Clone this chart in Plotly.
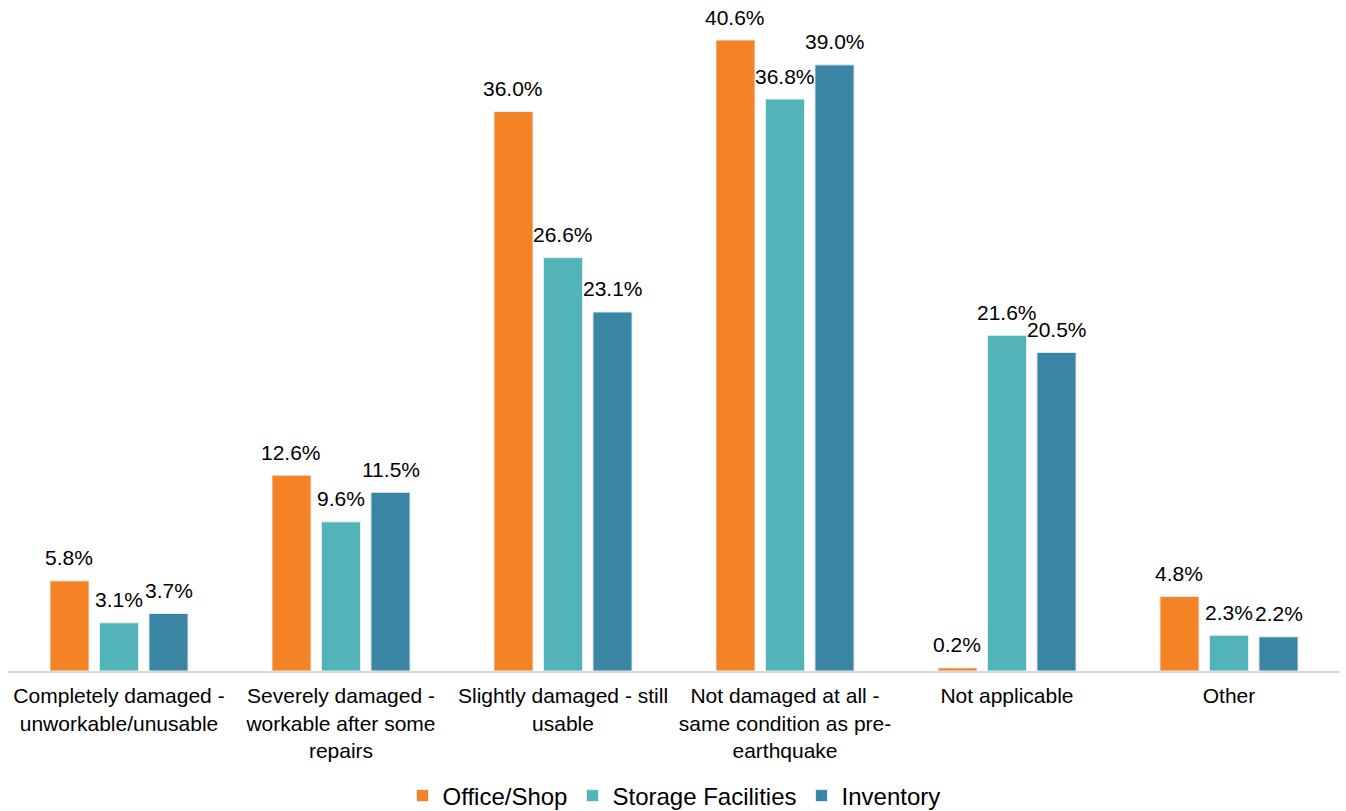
import plotly.graph_objects as go

categories = [
    "Completely damaged -<br>unworkable/unusable",
    "Severely damaged -<br>workable after some<br>repairs",
    "Slightly damaged - still<br>usable",
    "Not damaged at all -<br>same condition as pre-<br>earthquake",
    "Not applicable",
    "Other",
]
office_shop = [5.8, 12.6, 36.0, 40.6, 0.2, 4.8]
storage_facilities = [3.1, 9.6, 26.6, 36.8, 21.6, 2.3]
inventory = [3.7, 11.5, 23.1, 39.0, 20.5, 2.2]

series = [
    ("Office/Shop", office_shop, "#F48326"),
    ("Storage Facilities", storage_facilities, "#52B3B9"),
    ("Inventory", inventory, "#3A84A4"),
]

FONT = "Liberation Sans, Arial, sans-serif"
WIDTH, HEIGHT = 1346, 811
MARGIN = dict(l=8, r=6, t=10, b=140)
BARGAP = 0.331

fig = go.Figure()
for name, vals, color in series:
    fig.add_trace(go.Bar(
        name=name,
        x=categories,
        y=vals,
        marker=dict(color=color, line=dict(color="#E8F0F2", width=1)),
        cliponaxis=False,
    ))

# value labels above each bar, shifted to the centre of its slot in the group
plot_w = WIDTH - MARGIN["l"] - MARGIN["r"]
slot_px = plot_w / len(categories) * (1 - BARGAP) / len(series)
for j, (name, vals, color) in enumerate(series):
    offset = (j - (len(series) - 1) / 2) * slot_px
    for cat, v in zip(categories, vals):
        fig.add_annotation(
            x=cat, y=v, text=f"{v:.1f}%",
            showarrow=False, xanchor="center", yanchor="middle",
            xshift=offset, yshift=23,
            font=dict(family=FONT, size=21, color="#000000"),
        )

fig.update_layout(
    width=WIDTH,
    height=HEIGHT,
    margin=MARGIN,
    paper_bgcolor="white",
    plot_bgcolor="white",
    barmode="group",
    bargap=BARGAP,
    bargroupgap=0.21,
    font=dict(family=FONT, color="#000000"),
    showlegend=True,
    legend=dict(
        orientation="h",
        x=0.5, xanchor="center",
        yref="container", y=0.0185, yanchor="middle",
        font=dict(family=FONT, size=24, color="#000000"),
        itemwidth=30,
        traceorder="normal",
    ),
)
fig.update_xaxes(
    showline=True, linecolor="#D9D9D9", linewidth=2,
    ticks="", tickfont=dict(family=FONT, size=21, color="#000000"),
    ticklabelstandoff=5,
    automargin=False,
    showgrid=False,
)
fig.update_yaxes(
    range=[0, 42.53], visible=False, showgrid=False, zeroline=False,
)

fig.write_html("out.html")
